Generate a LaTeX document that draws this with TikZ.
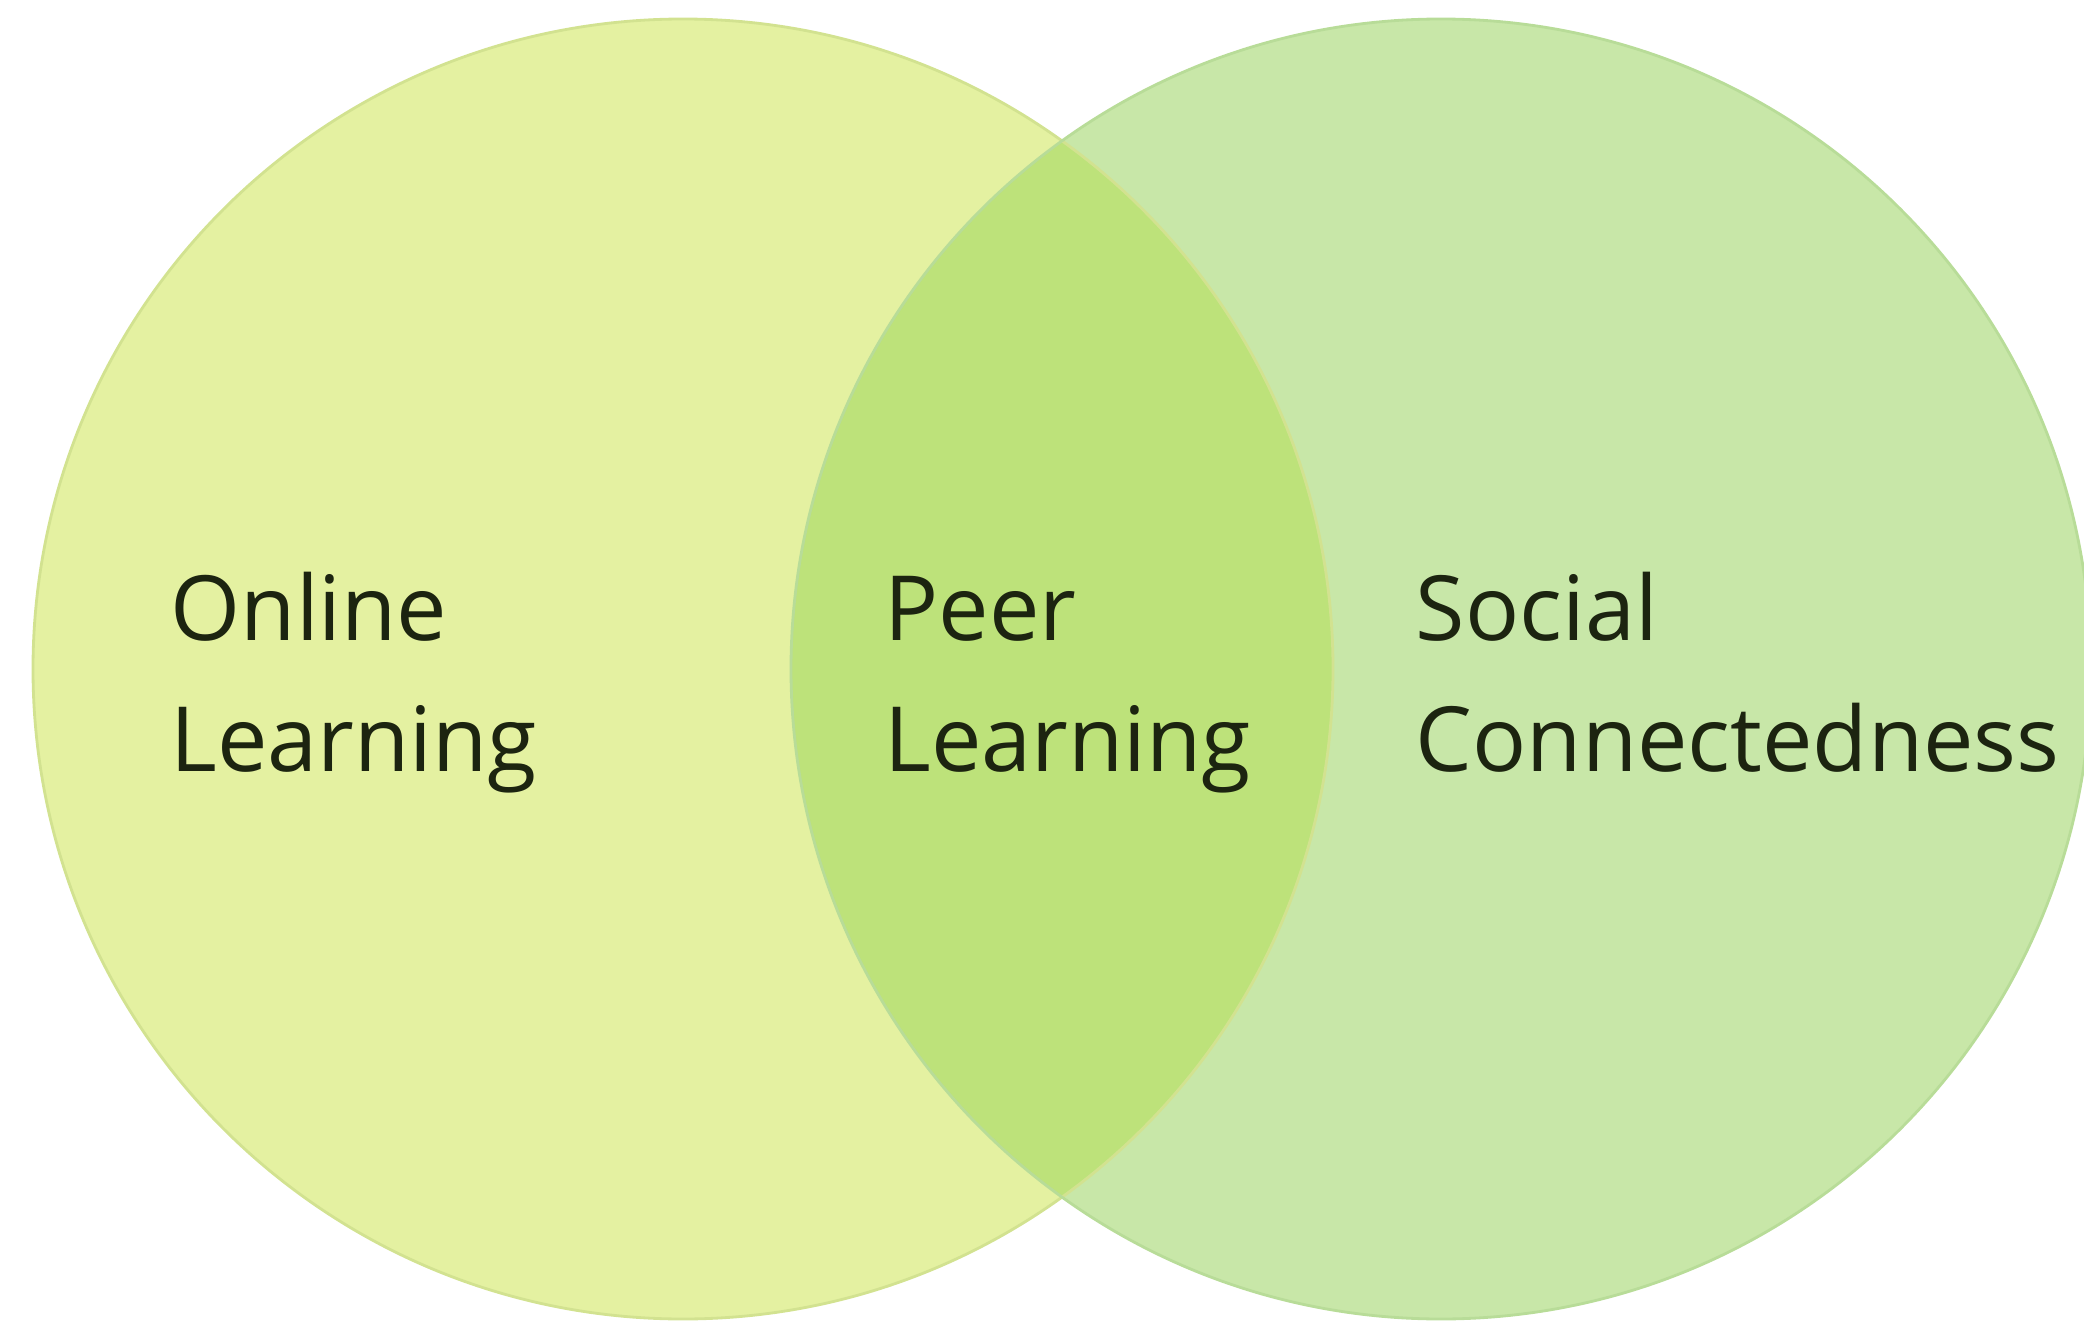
\documentclass[tikz,border=0pt]{standalone}
\usepackage{fontspec}
\setmainfont{Open Sans}
\usepackage{tikz}
\usetikzlibrary{positioning}

\definecolor{onlinefill}{HTML}{E4F1A1}
\definecolor{onlineline}{HTML}{D2E290}
\definecolor{socialfill}{HTML}{C8E7A8}
\definecolor{socialline}{HTML}{B8DC98}
\definecolor{peerfill}{HTML}{BDE27A}
\definecolor{inktext}{HTML}{1C2410}

\begin{document}
\begin{tikzpicture}[
  set/.style={circle, line width=0.8pt, minimum size=13cm, inner sep=0pt},
  settext/.style={anchor=base west, inner sep=0pt, align=left, text=inktext,
    font=\fontsize{25.6pt}{37pt}\selectfont}
]
  \useasboundingbox (0,0) rectangle (20.84,13.21);

  \node[set, fill=onlinefill] (online) at (6.83,6.52) {};
  \node[set, fill=socialfill] (social) at (14.41,6.52) {};

  % lens where the two sets meet
  \begin{scope}
    \clip (online.center) circle (6.5);
    \fill[peerfill] (social.center) circle (6.5);
  \end{scope}
  \draw[onlineline, line width=0.8pt] (online.center) circle (6.5);
  \draw[socialline, line width=0.8pt] (social.center) circle (6.5);

  % base anchor sits on the second line
  \node[settext] (onlinetxt) at (1.70,5.50) {Online\\Learning};
  \node[settext] (peertxt) at (8.84,5.50) {Peer\\Learning};
  \node[settext] (socialtxt) at (14.15,5.50) {Social\\Connectedness};
\end{tikzpicture}
\end{document}
